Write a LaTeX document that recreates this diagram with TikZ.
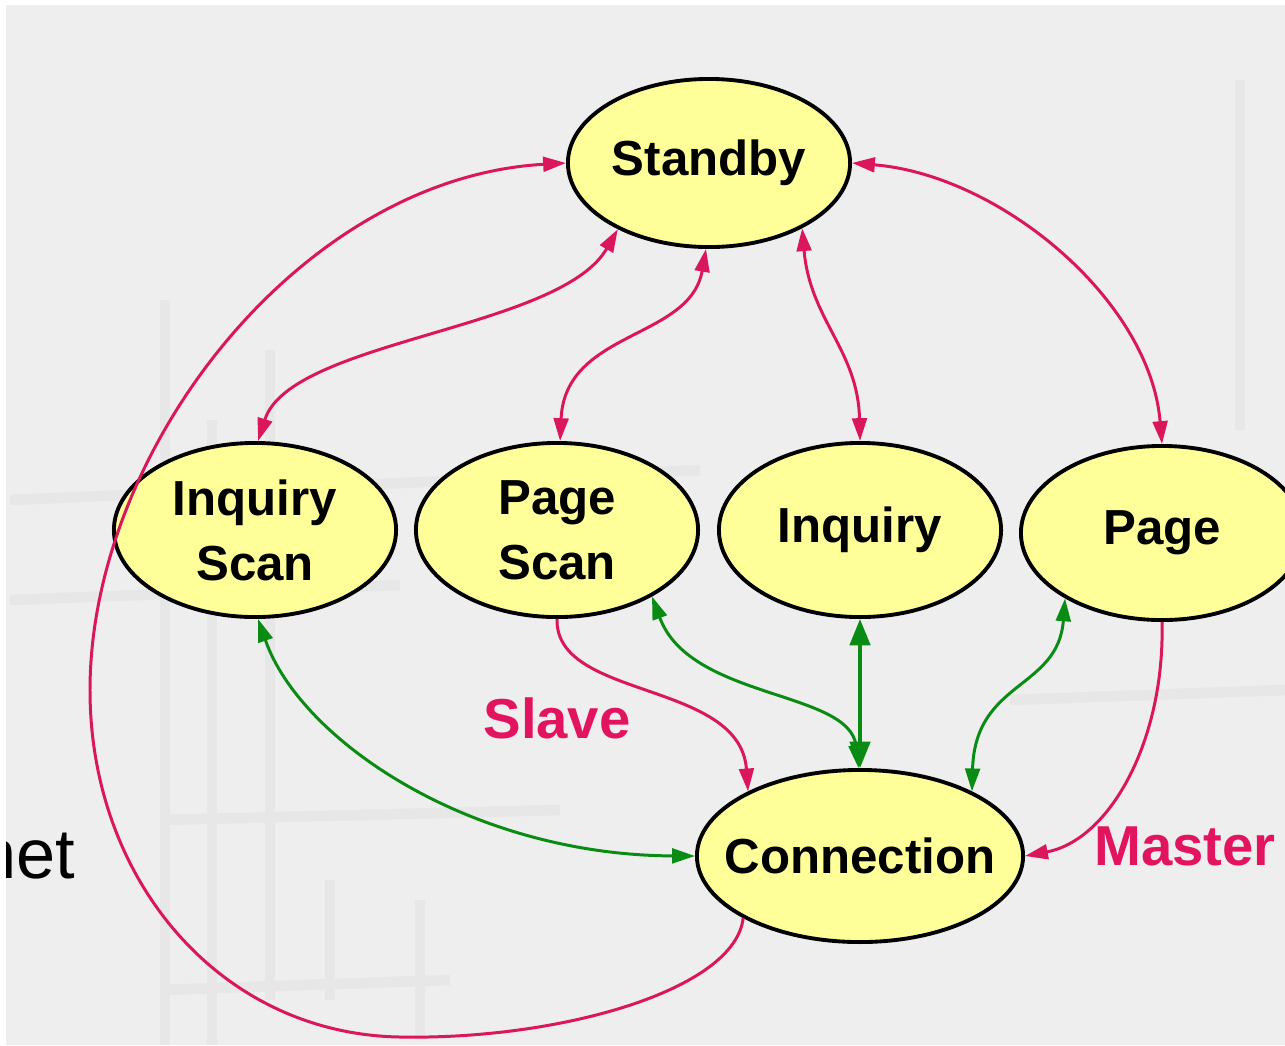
\documentclass[tikz,border=0pt]{standalone}
\usepackage{fontspec}
\setmainfont{Liberation Sans}
\usetikzlibrary{shapes.geometric,arrows.meta}
\definecolor{bg}{RGB}{238,238,238}
\definecolor{bgline}{RGB}{231,231,231}
\definecolor{yel}{RGB}{255,255,153}
\definecolor{rd}{RGB}{218,22,92}
\definecolor{rdtext}{RGB}{226,20,96}
\definecolor{gr}{RGB}{10,140,20}
\tikzset{
  bubble/.style={ellipse, draw=black, line width=1.1pt, fill=yel, inner sep=0pt,
    minimum width=2.82cm, minimum height=1.74cm, align=center,
    font=\bfseries\fontsize{14}{18.5}\selectfont},
  redtwo/.style={draw=rd, line width=0.85pt, >={Triangle[length=6.5pt,width=4.2pt]}, <->},
  redone/.style={draw=rd, line width=0.85pt, >={Triangle[length=6.5pt,width=4.2pt]}, ->},
  greentwo/.style={draw=gr, line width=0.85pt, >={Triangle[length=6.5pt,width=4.2pt]}, <->},
  greenbig/.style={draw=gr, line width=1pt, >={Triangle[length=7.5pt,width=5.8pt]}, <->},
  lbl/.style={text=rdtext, font=\bfseries\fontsize{16}{19}\selectfont}
}
\begin{document}
\begin{tikzpicture}[x=0.01cm, y=-0.01cm]
\useasboundingbox (0,0) rectangle (1285,1045);
\fill[white] (0,0) rectangle (1285,1045);
\fill[bg] (6,5) rectangle (1285,1045);
% faint background texture
\begin{scope}[draw=bgline, line width=3pt]
  \draw (165,300) -- (165,1045);
  \draw (212,420) -- (212,1045);
  \draw (270,350) -- (270,1000);
  \draw (10,500) -- (700,470);
  \draw (10,600) -- (400,585);
  \draw (160,820) -- (560,810);
  \draw (160,990) -- (450,980);
  \draw (330,880) -- (330,1000);
  \draw (420,900) -- (420,1040);
  \draw (1010,700) -- (1285,690);
  \draw (1240,80) -- (1240,430);
\end{scope}
% left text
\begin{scope}
  \clip (6,5) rectangle (1285,1045);
  \node[anchor=base east, inner sep=0pt, font=\fontsize{20}{24}\selectfont] (net) at (76,878) {net};
\end{scope}
% nodes
\node[bubble, minimum height=1.68cm] (sb) at (709,163) {Standby};
\node[bubble] (is) at (255,530) {Inquiry\\Scan};
\node[bubble] (ps) at (557,530) {Page\\Scan};
\node[bubble] (inq) at (860,530) {Inquiry};
\node[bubble] (pg) at (1162,533) {Page};
\node[bubble, minimum width=3.26cm, minimum height=1.72cm] (cn) at (860,856) {\makebox[0pt]{Connection}};
% labels
\node[lbl] (slave) at (557,718) {Slave};
\node[lbl] (master) at (1185,846) {Master};
% red connectors
\draw[redtwo] (sb.216) .. controls (560,330) and (290,340) .. (is.88);
\draw[redtwo] (sb.268) .. controls (690,340) and (565,330) .. (ps.88);
\draw[redtwo] (sb.325) .. controls (810,320) and (858,350) .. (inq.90);
\draw[redtwo] (sb.0) .. controls (1000,175) and (1150,300) .. (pg.90);
\draw[redone] (cn.208) .. controls (735,990) and (560,1040) .. (400,1037)
   .. controls (220,1034) and (90,880) .. (90,690)
   .. controls (90,450) and (300,178) .. (sb.180);
\draw[redone] (ps.270) .. controls (555,700) and (740,680) .. (cn.150);
\draw[redone] (pg.270) .. controls (1165,740) and (1110,840) .. (cn.0);
% green connectors
\draw[greentwo] (is.272) .. controls (300,740) and (470,855) .. (cn.180);
\draw[greentwo] (ps.325) .. controls (690,700) and (850,690) .. (cn.91);
\draw[greenbig] (inq.270) -- (cn.90);
\draw[greentwo] (pg.214) .. controls (1058,690) and (975,680) .. (cn.30);
\end{tikzpicture}
\end{document}
